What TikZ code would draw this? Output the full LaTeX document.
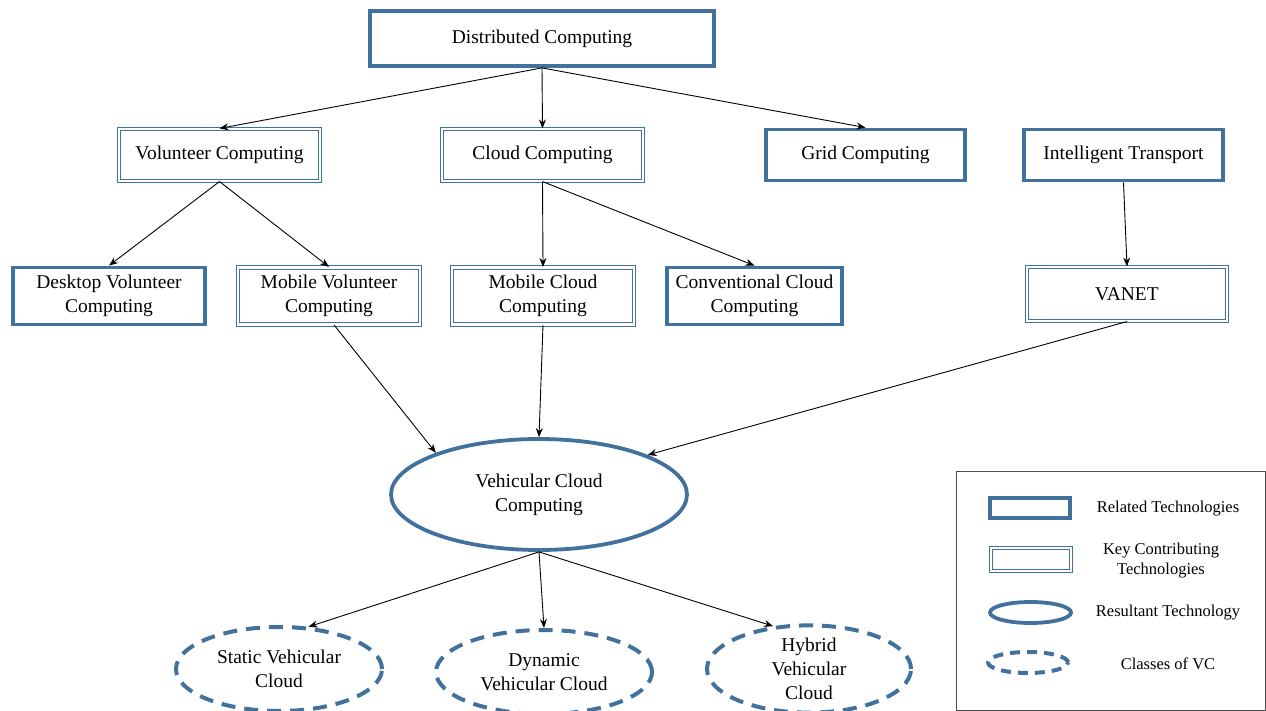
\documentclass[tikz,border=0pt]{standalone}
\usepackage{fontspec}
\setmainfont{Liberation Serif}
\usetikzlibrary{positioning, arrows.meta, shapes.geometric}
\definecolor{techblue}{RGB}{65,113,156}

\begin{document}
\begin{tikzpicture}[
    x=1pt, y=-1pt,
    every node/.style={align=center, inner sep=0pt, font=\fontsize{19.5}{24}\selectfont},
    relbox/.style={rectangle, draw=techblue, line width=3.8pt, fill=white},
    keybox/.style={rectangle, draw=techblue, double=white, double distance=2.2pt, line width=1.1pt},
    resnode/.style={ellipse, draw=techblue, line width=3.8pt},
    classnode/.style={ellipse, draw=techblue, line width=4pt, dash pattern=on 14pt off 9pt},
    legtext/.style={font=\fontsize{16.5}{20}\selectfont},
    link/.style={-{Stealth[length=9pt, width=7pt]}, line width=0.9pt}
]
\useasboundingbox (0,0) rectangle (1266,711);

% top level
\node[relbox, minimum width=344pt, minimum height=55pt] (dist) at (542,38.5) {Distributed Computing};

% second level
\node[keybox, minimum width=201pt, minimum height=52pt] (vol) at (219.5,155) {Volunteer Computing};
\node[keybox, minimum width=201pt, minimum height=52pt] (cloud) at (542.5,155) {Cloud Computing};
\node[relbox, minimum width=199pt, minimum height=51pt] (grid) at (865.5,155) {Grid Computing};
\node[relbox, minimum width=199pt, minimum height=51pt] (its) at (1123.5,155) {Intelligent Transport};

% third level
\node[relbox, minimum width=192pt, minimum height=57pt] (desk) at (109,296) {Desktop Volunteer\\Computing};
\node[keybox, minimum width=182pt, minimum height=57pt] (mobvol) at (329,296) {Mobile Volunteer\\Computing};
\node[keybox, minimum width=182pt, minimum height=57pt] (mobcloud) at (543,296) {Mobile Cloud\\Computing};
\node[relbox, minimum width=175pt, minimum height=57pt] (conv) at (754.5,296) {Conventional Cloud\\Computing};
\node[keybox, minimum width=200pt, minimum height=54pt] (vanet) at (1127,294) {VANET};

% resultant technology
\node[resnode, minimum width=296pt, minimum height=111pt] (vcc) at (539,494.5) {Vehicular Cloud\\Computing};

% classes of VC
\node[classnode, minimum width=206pt, minimum height=84pt] (static) at (279,669) {Static Vehicular\\Cloud};
\node[classnode, minimum width=216pt, minimum height=84pt] (dyn) at (544,672) {Dynamic\\Vehicular Cloud};
\node[classnode, minimum width=204pt, minimum height=84pt] (hyb) at (809,669) {Hybrid\\Vehicular\\Cloud};

% connectors
\draw[link] (dist.south) -- (vol.north);
\draw[link] (dist.south) -- (cloud.north);
\draw[link] (dist.south) -- (grid.north);
\draw[link] (vol.south) -- (desk.north);
\draw[link] (vol.south) -- (mobvol.north);
\draw[link] (cloud.south) -- (mobcloud.north);
\draw[link] (cloud.south) -- (conv.north);
\draw[link] (its.south) -- (vanet.north);
\draw[link] (mobvol.-80) -- (vcc.158);
\draw[link] (mobcloud.south) -- (vcc.north);
\draw[link] (vanet.south) -- (vcc.20);
\draw[link] (vcc.south) -- (static.55);
\draw[link] (vcc.south) -- (dyn.north);
\draw[link] (vcc.south) -- (hyb.130);

% legend
\node[draw=black!70, line width=0.8pt, minimum width=309pt, minimum height=239pt] (legend) at (1110.5,591) {};
\node[relbox, minimum width=80pt, minimum height=20pt] (lrel) at (1030,508) {};
\node[keybox, minimum width=80pt, minimum height=23pt] (lkey) at (1031,559.5) {};
\node[resnode, minimum width=81pt, minimum height=21pt] (lres) at (1030.5,612.5) {};
\node[classnode, dash pattern=on 10pt off 7pt, minimum width=80pt, minimum height=21pt] (lcls) at (1028,662.5) {};
\node[legtext] (trel) at (1168,509) {Related Technologies};
\node[legtext] (tkey) at (1161,561) {Key Contributing\\Technologies};
\node[legtext] (tres) at (1168,613) {Resultant Technology};
\node[legtext] (tcls) at (1168,664) {Classes of VC};
\end{tikzpicture}
\end{document}
